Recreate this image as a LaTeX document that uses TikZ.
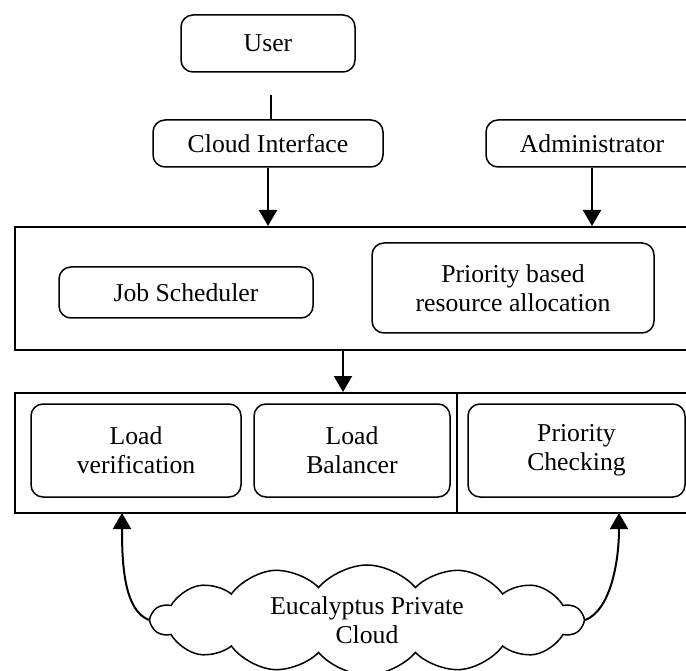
\documentclass[tikz,border=0pt]{standalone}
\usepackage{fontspec}
\setmainfont{Liberation Serif}
\usetikzlibrary{arrows.meta}
\usetikzlibrary{shapes.symbols}

\tikzset{
  blk/.style={draw, line width=1.5pt, rounded corners=12pt, align=center, inner sep=0pt},
  layer/.style={draw, line width=2pt, inner sep=0pt},
  flow/.style={line width=2pt, -{Triangle[length=16pt,width=18pt]}},
}

\begin{document}
\begin{tikzpicture}[x=1pt, y=-1pt, font=\fontsize{25.7}{29}\selectfont]
  \useasboundingbox (0,0) rectangle (686,671);
  \clip (0,0) rectangle (686,671);

  % upper row
  \node[blk, minimum width=174pt, minimum height=57pt] (user) at (268,43.5) {User};
  \node[blk, minimum width=230pt, minimum height=47pt] (iface) at (268,143.5) {Cloud Interface};
  \node[blk, minimum width=212pt, minimum height=47pt] (admin) at (592,143.5) {Administrator};

  % scheduling layer
  \node[layer, minimum width=690pt, minimum height=123pt] (toplayer) at (360,288.5) {};
  \node[blk, minimum width=254pt, minimum height=51pt] (sched) at (186,292.5) {Job Scheduler};
  \node[blk, minimum width=282pt, minimum height=90pt] (prio) at (513,288) {Priority based\\resource allocation};

  % execution layer
  \node[layer, minimum width=690pt, minimum height=120pt] (botlayer) at (360,453) {};
  \draw[line width=2pt] (457,393) -- (457,513);
  \node[blk, minimum width=210pt, minimum height=93pt] (lverif) at (136,450.5) {Load\\verification};
  \node[blk, minimum width=196pt, minimum height=93pt] (lbal) at (352,450.5) {Load\\Balancer};
  \node[blk, minimum width=217pt, minimum height=93pt] (pcheck) at (576.5,450.5) {Priority\\Checking};

  % private cloud
  \node[cloud, draw, line width=1.5pt, cloud puffs=14, cloud puff arc=100, cloud ignores aspect,
        minimum width=431pt, minimum height=110pt, align=center, inner sep=0pt] (euca) at (367,620)
        {Eucalyptus Private\\Cloud};

  % connectors
  \coordinate (ustub) at (271,95);
  \coordinate (mid) at (343,350);
  \coordinate (lin) at (122,513);
  \coordinate (rin) at (619,513);
  \draw[line width=2pt] (ustub) -- (ustub |- iface.north);
  \draw[flow] (iface.south) -- (iface.south |- toplayer.north);
  \draw[flow] (admin.south) -- (admin.south |- toplayer.north);
  \draw[flow] (mid) -- (mid |- botlayer.north);
  \draw[flow] (euca.west) .. controls +(-25,-10) and +(0,50) .. (lin);
  \draw[flow] (euca.east) .. controls +(25,-10) and +(0,50) .. (rin);
\end{tikzpicture}
\end{document}
